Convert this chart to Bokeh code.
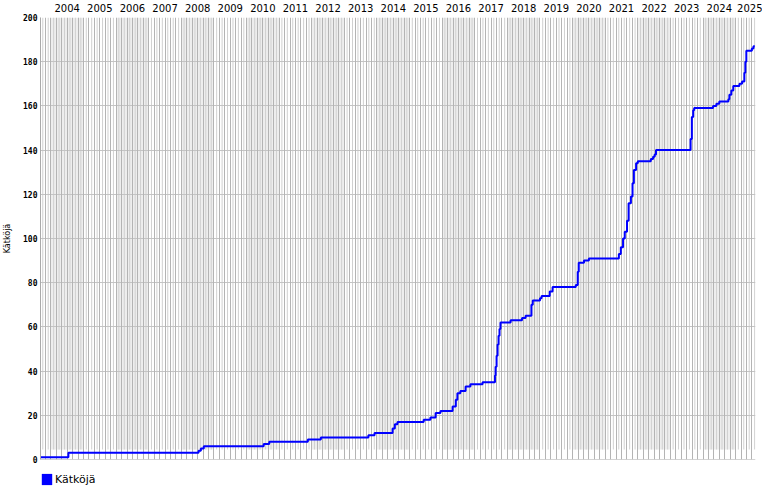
import numpy as np
import pandas as pd
from bokeh.plotting import figure
from bokeh.models import (FixedTicker, CustomJSTickFormatter, Grid, Span, Legend,
                          LegendItem, ColumnDataSource)
from bokeh.embed import file_html
from bokeh.resources import INLINE

# ---- data ----
dates = ["2003-09-06", "2004-07-15", "2008-07-12", "2008-08-07", "2008-09-09",
         "2010-07-12", "2010-09-12", "2011-11-18", "2012-04-12", "2013-09-27",
         "2013-12-05", "2014-06-25", "2014-07-20", "2014-08-19", "2015-06-08",
         "2015-08-22", "2015-10-20", "2015-12-13", "2016-04-27", "2016-06-02",
         "2016-06-20", "2016-07-23", "2016-09-20", "2016-11-13", "2017-03-29",
         "2017-08-15", "2017-08-22", "2017-09-02", "2017-09-13", "2017-09-24",
         "2017-10-05", "2017-10-16", "2018-02-06", "2018-06-14", "2018-07-24",
         "2018-09-27", "2018-10-12", "2019-01-01", "2019-01-19", "2019-04-20",
         "2019-05-22", "2020-02-06", "2020-02-28", "2020-03-10", "2020-05-08",
         "2020-07-02", "2021-06-03", "2021-06-25", "2021-07-20", "2021-08-08",
         "2021-09-02", "2021-09-20", "2021-10-16", "2021-11-03", "2021-11-18",
         "2021-12-13", "2022-01-01", "2022-05-27", "2022-06-21", "2022-07-09",
         "2022-07-24", "2023-08-15", "2023-08-29", "2023-09-13", "2023-09-24",
         "2024-04-23", "2024-05-30", "2024-07-02", "2024-10-12", "2024-10-23",
         "2024-11-14", "2024-12-06", "2025-02-13", "2025-03-14", "2025-04-09",
         "2025-04-20", "2025-05-01", "2025-07-02", "2025-07-20", "2025-08-04"]
counts = [1, 3, 4, 5, 6,
          7, 8, 9, 10, 11,
          12, 14, 16, 17, 18,
          19, 21, 22, 24, 27,
          30, 31, 33, 34, 35,
          38, 42, 47, 52, 56,
          59, 62, 63, 64, 65,
          70, 72, 73, 74, 76,
          78, 79, 85, 89, 90,
          91, 93, 96, 100, 103,
          108, 116, 119, 125, 131,
          134, 135, 136, 137, 138,
          140, 145, 155, 158, 159,
          160, 161, 162, 163, 165,
          167, 169, 170, 171, 175,
          180, 185, 186, 187, 187]
years = list(range(2004, 2026))
series_name = "Kätköjä"
y_ticks = [0, 20, 40, 60, 80, 100, 120, 140, 160, 180, 200]


def decimal_year(ts):
    start = pd.Timestamp(year=ts.year, month=1, day=1)
    end = pd.Timestamp(year=ts.year + 1, month=1, day=1)
    return ts.year + (ts - start) / (end - start)


dt = pd.to_datetime(dates)
xs = [decimal_year(t) for t in dt]
src = ColumnDataSource(dict(x=xs, y=counts))

x0, x1 = 2003.68, 2025.61
y0, y1 = 0, 200
FRAME_H = 442
band_bottom = y1 * 10.0 / FRAME_H   # shading stops 10px above the baseline

p = figure(frame_width=715, frame_height=FRAME_H, output_backend="svg",
           toolbar_location=None,
           x_range=(x0, x1), y_range=(y0, y1), x_axis_location="above",
           min_border_left=0, min_border_right=7, min_border_top=0,
           min_border_bottom=0, outline_line_color=None,
           background_fill_color="white")

# even-year shading
shade_years = [y for y in range(2003, 2026) if y % 2 == 0]
p.quad(left=shade_years, right=[y + 1 for y in shade_years],
       bottom=band_bottom, top=y1, fill_color="#eeeeee", line_color=None,
       level="image")

# month lines: odd months light (short), even months dark (full)
months = np.arange(np.floor(x0 * 12), np.ceil(x1 * 12) + 1) / 12.0
dark = [float(m) for i, m in enumerate(months) if int(round(m * 12)) % 2 == 0]
light = [float(m) for i, m in enumerate(months) if int(round(m * 12)) % 2 == 1]

p.segment(x0=light, x1=light, y0=band_bottom, y1=y1, line_color="#d0d0d0",
          line_width=1, level="image")

p.xgrid.visible = False
g_dark = Grid(dimension=0, ticker=FixedTicker(ticks=dark),
              grid_line_color="#b4b4b4", grid_line_width=1)
p.add_layout(g_dark)

# horizontal grid
p.ygrid.ticker = FixedTicker(ticks=y_ticks)
p.ygrid.grid_line_color = "#c4c4c4"

# top year axis
xa = p.xaxis[0]
xa.ticker = FixedTicker(ticks=[y + 0.5 for y in years])
xa.formatter = CustomJSTickFormatter(code="return String(Math.floor(tick));")
xa.major_tick_line_color = None
xa.minor_tick_line_color = None
xa.axis_line_color = None
xa.major_label_standoff = 0
xa.major_label_text_font = "DejaVu Sans"
xa.major_label_text_font_size = "10px"
xa.major_label_text_color = "black"

# y axis
ya = p.yaxis[0]
ya.ticker = FixedTicker(ticks=y_ticks)
ya.axis_label = series_name
ya.axis_label_text_font = "DejaVu Sans"
ya.axis_label_text_font_size = "8px"
ya.axis_label_text_font_style = "normal"
ya.axis_label_text_color = "black"
ya.axis_label_standoff = 8
ya.major_label_text_font = "DejaVu Sans Mono"
ya.major_label_text_font_size = "8px"
ya.major_label_text_font_style = "bold"
ya.major_label_text_color = "black"
ya.major_label_standoff = 3
ya.major_tick_out = 0
ya.major_tick_in = 0
ya.minor_tick_line_color = None
ya.axis_line_color = "#aaaaaa"

p.add_layout(Span(location=y0, dimension="width", line_color="#aaaaaa", line_width=1))

line = p.step("x", "y", source=src, mode="after", line_color="#0000ff", line_width=2)

# legend swatch (zero-size quad at the first data point, only used for the legend)
swatch = p.quad(left=xs[:1], right=xs[:1], bottom=counts[:1], top=counts[:1],
                fill_color="#0000ff", line_color=None)
legend = Legend(items=[LegendItem(label=series_name, renderers=[swatch])],
                location="top_left", orientation="horizontal",
                border_line_color=None, background_fill_alpha=0,
                label_text_font="DejaVu Sans", label_text_font_size="11px",
                label_text_color="black",
                title=" ", title_text_font_size="9px", title_standoff=3,
                glyph_width=13, glyph_height=14, label_standoff=2,
                padding=0, margin=0, spacing=0, label_height=14)
p.add_layout(legend, "below")

open("out.html", "w").write(file_html(p, INLINE))
